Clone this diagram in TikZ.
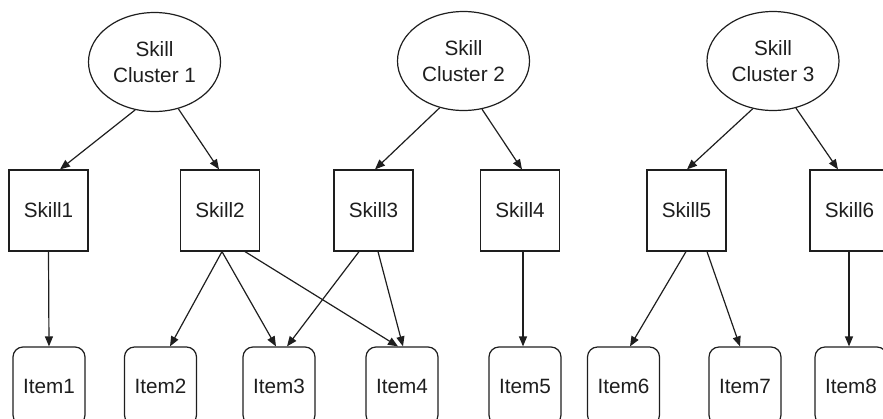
\documentclass[tikz,border=0pt]{standalone}
\usepackage{fontspec}
\setmainfont{Liberation Sans}
\usetikzlibrary{shapes.geometric,arrows.meta,calc}
\definecolor{ink}{HTML}{1E1E1E}
\begin{document}
\begin{tikzpicture}[x=1pt,y=-1pt,
  every node/.style={text=ink,font=\fontsize{20.7}{25.7}\selectfont},
  cluster/.style={draw=ink,line width=1.2pt,ellipse,minimum width=132pt,minimum height=99pt,inner sep=0pt,align=center},
  skillbox/.style={draw=ink,line width=1.2pt,rectangle,minimum width=79pt,minimum height=81pt,inner sep=0pt},
  itembox/.style={draw=ink,line width=1.2pt,rectangle,rounded corners=10pt,minimum width=72pt,minimum height=78pt,inner sep=0pt},
  link/.style={draw=ink,line width=1.2pt,-{Triangle[length=10pt,width=8pt]}}]
\useasboundingbox (0,0) rectangle (883,418);
\clip (0,0) rectangle (883,418);
% clusters
\node[cluster] (c1) at (154.5,62) {Skill\\Cluster 1};
\node[cluster] (c2) at (463.5,61) {Skill\\Cluster 2};
\node[cluster] (c3) at (773,61) {Skill\\Cluster 3};
% skills
\node[skillbox] (s1) at (48.5,210.5) {Skill1};
\node[skillbox] (s2) at (220,210.5) {Skill2};
\node[skillbox] (s3) at (373.5,210.5) {Skill3};
\node[skillbox] (s4) at (520,210.5) {Skill4};
\node[skillbox] (s5) at (686.5,210.5) {Skill5};
\node[skillbox] (s6) at (849.5,210.5) {Skill6};
% items
\node[itembox] (i1) at (49,386) {Item1};
\node[itembox] (i2) at (160.5,386) {Item2};
\node[itembox] (i3) at (279,386) {Item3};
\node[itembox] (i4) at (402,386) {Item4};
\node[itembox] (i5) at (525,386) {Item5};
\node[itembox] (i6) at (623.5,386) {Item6};
\node[itembox] (i7) at (745,386) {Item7};
\node[itembox] (i8) at (851,386) {Item8};
% cluster to skill
\draw[link] (c1.248.8) -- ($(s1.north)+(11.5,0)$);
\draw[link] (c1.297.5) -- ($(s2.north)+(-1,0)$);
\draw[link] (c2.243.4) -- ($(s3.north)+(1.5,0)$);
\draw[link] (c2.291.5) -- ($(s4.north)+(2,0)$);
\draw[link] (c3.247) -- ($(s5.north)+(0.5,0)$);
\draw[link] (c3.296) -- ($(s6.north)+(-11.5,0)$);
% skill to item
\draw[link] (s1.south) -- (i1.north);
\draw[link] ($(s2.south)+(2,0)$) -- ($(i2.north)+(9.5,0)$);
\draw[link] ($(s2.south)+(2,0)$) -- ($(i3.north)+(-3,0)$);
\draw[link] ($(s2.south)+(25,0)$) -- ($(i4.north)+(-4,0)$);
\draw[link] ($(s3.south)+(-14.5,0)$) -- ($(i3.north)+(8,0)$);
\draw[link] ($(s3.south)+(4.5,0)$) -- ($(i4.north)+(1,0)$);
\draw[link] ($(s4.south)+(3,0)$) -- ($(i5.north)+(-2,0)$);
\draw[link] ($(s5.south)+(-0.5,0)$) -- ($(i6.north)+(6.5,0)$);
\draw[link] ($(s5.south)+(20.5,0)$) -- ($(i7.north)+(-5,0)$);
\draw[link] ($(s6.south)+(-0.5,0)$) -- ($(i8.north)+(-2,0)$);
\end{tikzpicture}
\end{document}
